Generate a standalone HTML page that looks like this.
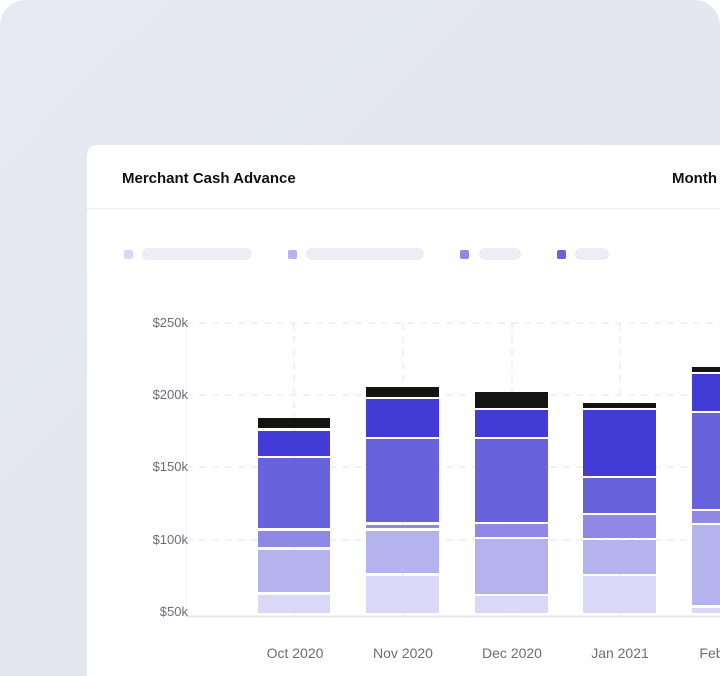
<!DOCTYPE html>
<html><head><style>
html,body{margin:0;padding:0;width:720px;height:676px;overflow:hidden;background:#fff;font-family:"Liberation Sans",sans-serif;}
.wrap{position:relative;width:720px;height:676px;overflow:hidden;}
.bg{position:absolute;left:0;top:0;width:720px;height:676px;background:linear-gradient(135deg,#e6e9f2 0%,#e3e6ef 60%,#e8eaf2 100%);border-radius:26px 26px 0 0;}
.card{position:absolute;left:87px;top:145px;width:633px;height:531px;background:#fff;border-radius:10px 0 0 0;}
.t{position:absolute;font-size:15px;color:#111;font-weight:bold;white-space:nowrap;}
.hr{position:absolute;left:87px;top:208px;width:633px;height:1px;background:#eef0f4;}
.yl{position:absolute;font-size:13px;color:#6b6e76;width:80px;text-align:right;left:108px;}
.xl{position:absolute;font-size:14px;color:#6b6e76;width:100px;text-align:center;top:645px;white-space:nowrap;}
.sq{position:absolute;width:9px;height:9px;border-radius:2px;top:250px;}
.pill{position:absolute;height:12px;border-radius:6px;background:#eceef4;top:248px;}
</style></head><body><div class="wrap">
<div class="bg"></div>
<div class="card"></div>
<div class="t" style="left:122px;top:170px;">Merchant Cash Advance</div>
<div class="t" style="left:672px;top:170px;">Month</div>
<div class="hr"></div>
<div class="sq" style="left:124px;background:#d9d8f6"></div><div class="pill" style="left:142px;width:110px"></div>
<div class="sq" style="left:288px;background:#b4b3ee"></div><div class="pill" style="left:306px;width:118px"></div>
<div class="sq" style="left:460px;background:#8f88e5"></div><div class="pill" style="left:479px;width:42px"></div>
<div class="sq" style="left:557px;background:#6962dd"></div><div class="pill" style="left:575px;width:34px"></div>
<svg style="position:absolute;left:0;top:0" width="720" height="676">
<g stroke="#e4e5ec" stroke-width="1" stroke-dasharray="7,6">
<line x1="186" y1="323" x2="720" y2="323"/><line x1="186" y1="395" x2="720" y2="395"/>
<line x1="186" y1="467" x2="720" y2="467"/><line x1="186" y1="540" x2="720" y2="540"/>
<line x1="294" y1="323" x2="294" y2="616"/><line x1="403" y1="323" x2="403" y2="616"/>
<line x1="512" y1="323" x2="512" y2="616"/><line x1="620" y1="323" x2="620" y2="616"/>
</g>
<line x1="186.5" y1="323" x2="186.5" y2="616" stroke="#e8e8f2" stroke-dasharray="1,1"/>
<line x1="186" y1="616.5" x2="720" y2="616.5" stroke="#e6e7ee" stroke-width="2"/>
</svg>
<div class="yl" style="top:315px">$250k</div>
<div class="yl" style="top:387px">$200k</div>
<div class="yl" style="top:459px">$150k</div>
<div class="yl" style="top:532px">$100k</div>
<div class="yl" style="top:604px">$50k</div>
<div class="xl" style="left:245px">Oct 2020</div>
<div class="xl" style="left:353px">Nov 2020</div>
<div class="xl" style="left:462px">Dec 2020</div>
<div class="xl" style="left:570px">Jan 2021</div>
<div class="xl" style="left:679px">Feb 2021</div>
<svg style="position:absolute;left:0;top:0" width="720" height="676">
<rect x="258" y="418" width="72" height="10" fill="#141414"/>
<rect x="258" y="431" width="72" height="25" fill="#433bd6"/>
<rect x="258" y="458" width="72" height="70" fill="#6962dd"/>
<rect x="258" y="531" width="72" height="16" fill="#8f88e5"/>
<rect x="258" y="550" width="72" height="42" fill="#b4b3ee"/>
<rect x="258" y="595" width="72" height="18" fill="#d9d8f6"/>
<rect x="366" y="387" width="73" height="10" fill="#141414"/>
<rect x="366" y="399" width="73" height="38" fill="#433bd6"/>
<rect x="366" y="439" width="73" height="83" fill="#6962dd"/>
<rect x="366" y="525" width="73" height="3" fill="#8f88e5"/>
<rect x="366" y="531" width="73" height="42" fill="#b4b3ee"/>
<rect x="366" y="576" width="73" height="37" fill="#d9d8f6"/>
<rect x="475" y="392" width="73" height="16" fill="#141414"/>
<rect x="475" y="410" width="73" height="27" fill="#433bd6"/>
<rect x="475" y="439" width="73" height="83" fill="#6962dd"/>
<rect x="475" y="524" width="73" height="13" fill="#8f88e5"/>
<rect x="475" y="539" width="73" height="55" fill="#b4b3ee"/>
<rect x="475" y="596" width="73" height="17" fill="#d9d8f6"/>
<rect x="583" y="403" width="73" height="5" fill="#141414"/>
<rect x="583" y="410" width="73" height="66" fill="#433bd6"/>
<rect x="583" y="478" width="73" height="35" fill="#6962dd"/>
<rect x="583" y="515" width="73" height="23" fill="#8f88e5"/>
<rect x="583" y="540" width="73" height="34" fill="#b4b3ee"/>
<rect x="583" y="576" width="73" height="37" fill="#d9d8f6"/>
<rect x="692" y="367" width="28" height="5" fill="#141414"/>
<rect x="692" y="374" width="28" height="37" fill="#433bd6"/>
<rect x="692" y="413" width="28" height="96" fill="#6962dd"/>
<rect x="692" y="511" width="28" height="12" fill="#8f88e5"/>
<rect x="692" y="525" width="28" height="80" fill="#b4b3ee"/>
<rect x="692" y="608" width="28" height="5" fill="#d9d8f6"/>
</svg>
</div></body></html>
